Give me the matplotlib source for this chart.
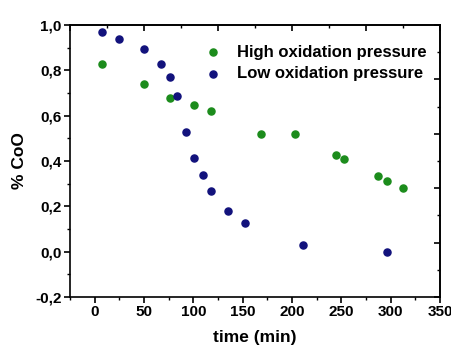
import numpy as np
import matplotlib.pyplot as plt
from matplotlib.ticker import MultipleLocator, FuncFormatter

# time (min) and CoO fraction for both runs
t_high = [8, 50, 76, 101, 118, 169, 203, 245, 253, 287, 296, 313]
coo_high = [0.827, 0.74, 0.68, 0.648, 0.622, 0.518, 0.519, 0.428, 0.407, 0.335, 0.311, 0.282]

t_low = [8, 25, 50, 67, 76, 84, 93, 101, 110, 118, 135, 152, 211, 296]
coo_low = [0.968, 0.937, 0.895, 0.83, 0.77, 0.688, 0.53, 0.413, 0.337, 0.266, 0.18, 0.127, 0.03, 0.0]

plt.rcParams['font.family'] = ['Liberation Sans', 'DejaVu Sans']
plt.rcParams['font.weight'] = 'bold'

fig = plt.figure(figsize=(4.51, 3.47), dpi=100)
ax = fig.add_axes([0.155, 0.144, 0.8205, 0.784])

ax.scatter(t_high, coo_high, s=26, color='#1c8c1c', label='High oxidation pressure', zorder=3)
ax.scatter(t_low, coo_low, s=26, color='#12127c', label='Low oxidation pressure', zorder=3)

ax.set_xlim(-25, 350)
ax.set_ylim(-0.2, 1.0)
ax.xaxis.set_major_locator(MultipleLocator(50))
ax.xaxis.set_minor_locator(MultipleLocator(25))
ax.yaxis.set_major_locator(MultipleLocator(0.2))
ax.yaxis.set_minor_locator(MultipleLocator(0.1))
ax.yaxis.set_major_formatter(FuncFormatter(lambda v, p: f'{v:.1f}'.replace('.', ',')))

ax.tick_params(which='major', direction='out', length=4, width=1.2, labelsize=11, pad=2)
ax.tick_params(which='minor', direction='out', length=2.5, width=1.0)
for lab in ax.get_xticklabels() + ax.get_yticklabels():
    lab.set_fontweight('bold')
for sp in ax.spines.values():
    sp.set_linewidth(1.2)

# unlabeled inward ticks on the top and right frame
top = ax.secondary_xaxis('top', functions=(lambda x: (x + 25) / 375, lambda f: f * 375 - 25))
top.xaxis.set_major_locator(MultipleLocator(0.2))
top.xaxis.set_minor_locator(MultipleLocator(0.1))
top.tick_params(which='major', direction='in', length=4, width=1.2, labeltop=False)
top.tick_params(which='minor', direction='in', length=2.5, width=1.0)
right = ax.secondary_yaxis('right', functions=(lambda y: (y + 0.2) / 1.2, lambda f: f * 1.2 - 0.2))
right.yaxis.set_major_locator(MultipleLocator(0.2))
right.yaxis.set_minor_locator(MultipleLocator(0.1))
right.tick_params(which='major', direction='in', length=4, width=1.2, labelright=False)
right.tick_params(which='minor', direction='in', length=2.5, width=1.0)
for sa in (top, right):
    for sp in sa.spines.values():
        sp.set_linewidth(1.2)

ax.set_xlabel('time (min)', fontsize=12.5, fontweight='bold', labelpad=8)
ax.set_ylabel('% CoO', fontsize=12.5, fontweight='bold', labelpad=6)

ax.legend(loc='upper right', bbox_to_anchor=(0.99, 0.965), frameon=False,
          handletextpad=0.4, labelspacing=0.4, borderaxespad=0.2,
          prop={'weight': 'bold', 'size': 12})

fig.savefig('out.png', dpi=100)
